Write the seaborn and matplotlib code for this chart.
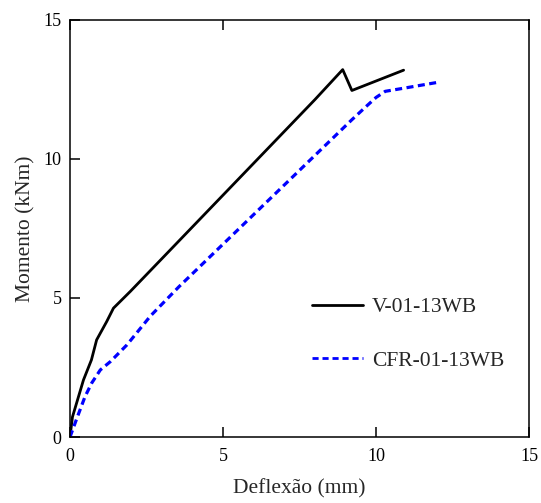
import pandas as pd
import matplotlib.pyplot as plt
import seaborn as sns

# Curve data (deflection in mm, moment in kNm)
v_label = 'V-01-13WB'
v_defl = [0, 0.08, 0.44, 0.7, 0.87, 1.2, 1.42, 1.97, 2.96, 8.0, 8.91, 9.21, 10.9]
v_mom = [0, 0.72, 2.05, 2.77, 3.49, 4.15, 4.63, 5.23, 6.36, 12.12, 13.2, 12.45, 13.18]

cfr_label = 'CFR-01-13WB'
cfr_defl = [0, 0.2, 0.49, 0.71, 0.99, 1.32, 1.86, 2.63, 3.56, 9.21, 9.7, 10.0, 10.3, 11.0, 12.0]
cfr_mom = [0, 0.6, 1.45, 1.94, 2.41, 2.71, 3.31, 4.35, 5.4, 11.4, 11.9, 12.2, 12.42, 12.55, 12.74]

ticks = [0, 5, 10, 15]

df = pd.concat([
    pd.DataFrame({'Deflexao': v_defl, 'Momento': v_mom, 'Viga': v_label}),
    pd.DataFrame({'Deflexao': cfr_defl, 'Momento': cfr_mom, 'Viga': cfr_label}),
], ignore_index=True)

sns.set_theme(style="white")
plt.rcParams['font.family'] = ['Liberation Serif', 'DejaVu Serif']

fig = plt.figure(figsize=(5.41, 5.03), dpi=100)
ax = fig.add_axes([0.1294, 0.1312, 0.8486, 0.8300])

sns.lineplot(
    data=df, x='Deflexao', y='Momento', hue='Viga', style='Viga',
    palette={v_label: 'black', cfr_label: '#0000FF'},
    dashes={v_label: '', cfr_label: (2.2, 1.4)},
    estimator=None, sort=False, linewidth=2.0, ax=ax,
)
ax.lines[1].set_linewidth(2.3)

ax.set_xlim(0, 15)
ax.set_ylim(0, 15)
ax.set_xticks(ticks)
ax.set_yticks(ticks)
ax.tick_params(direction='in', length=7, width=1.1, labelsize=13, colors='black',
               top=True, bottom=True, left=True, right=False)
ax.tick_params(axis='x', pad=8)
ax.tick_params(axis='y', pad=6)
for s in ax.spines.values():
    s.set_color('black')
    s.set_linewidth(1.1)

ax.set_xlabel('Deflexão (mm)', fontsize=15.5, labelpad=10)
ax.set_ylabel('Momento (kNm)', fontsize=15.5, labelpad=6)

leg = ax.legend(loc='upper left', bbox_to_anchor=(0.527, 0.335), frameon=False,
                borderpad=0, borderaxespad=0, fontsize=15.5, handlelength=2.35,
                handletextpad=0.45, labelspacing=1.55)
for h in leg.get_lines():
    h.set_linewidth(2.0)

fig.savefig('out.png', dpi=100)
